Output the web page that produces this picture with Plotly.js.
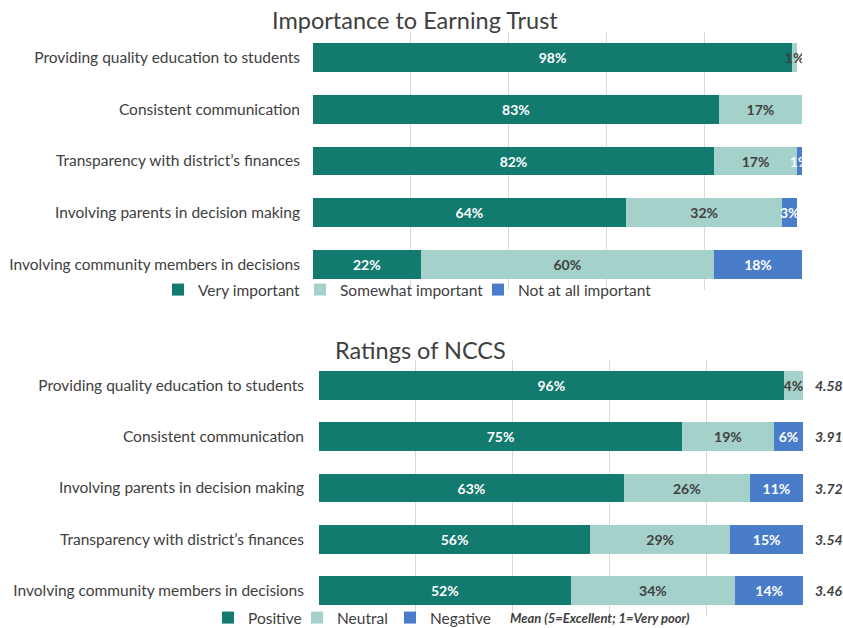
<!DOCTYPE html>
<html>
<head>
<meta charset="utf-8">
<script src="https://cdn.plot.ly/plotly-3.0.1.min.js"></script>
<style>html,body{margin:0;padding:0;background:#fff}#chart{width:843px;height:628px}</style>
</head>
<body>
<div id="chart"></div>
<script>
// Top chart: Importance to Earning Trust
const trustCategories = [
  "Providing quality education to students",
  "Consistent communication",
  "Transparency with district\u2019s finances",
  "Involving parents in decision making",
  "Involving community members in decisions"
];
const veryImportant = [98, 83, 82, 64, 22];
const somewhatImportant = [1, 17, 17, 32, 60];
const notAtAllImportant = [0, 0, 1, 3, 18];

// Bottom chart: Ratings of NCCS
const ratingCategories = [
  "Providing quality education to students",
  "Consistent communication",
  "Involving parents in decision making",
  "Transparency with district\u2019s finances",
  "Involving community members in decisions"
];
const positive = [96, 75, 63, 56, 52];
const neutral = [4, 19, 26, 29, 34];
const negative = [0, 6, 11, 15, 14];
const means = [4.58, 3.91, 3.72, 3.54, 3.46];

const C_DARK = '#127a6e', C_LIGHT = '#a4d1ca', C_BLUE = '#4a7dc9';
const FONT = 'Lato, "Open Sans", sans-serif';
const GREY = '#404040';
const W = 843, H = 628;

function pct(arr){ return arr.map(v => v > 0 ? v + '%' : ''); }

function barTrace(name, x, y, color, txtColor, xa, ya, legend, lw){
  return {
    type: 'bar', orientation: 'h', name: name, x: x, y: y,
    xaxis: xa, yaxis: ya, legend: legend, legendwidth: lw,
    marker: {color: color},
    text: pct(x), textposition: 'inside', insidetextanchor: 'middle',
    constraintext: 'none', textangle: 0,
    textfont: {family: FONT, size: 14, color: txtColor, weight: 'bold'},
    hoverinfo: 'x+y'
  };
}

const data = [
  barTrace('Very important', veryImportant, trustCategories, C_DARK, '#ffffff', 'x', 'y', 'legend', 97),
  barTrace('Somewhat important', somewhatImportant, trustCategories, C_LIGHT, GREY, 'x', 'y', 'legend', 133),
  barTrace('Not at all important', notAtAllImportant, trustCategories, C_BLUE, '#ffffff', 'x', 'y', 'legend', 140),
  barTrace('Positive', positive, ratingCategories, C_DARK, '#ffffff', 'x2', 'y2', 'legend2', 44),
  barTrace('Neutral', neutral, ratingCategories, C_LIGHT, GREY, 'x2', 'y2', 'legend2', 48),
  barTrace('Negative', negative, ratingCategories, C_BLUE, '#ffffff', 'x2', 'y2', 'legend2', 60)
];

const xCommon = {range: [0, 100], showticklabels: false, showgrid: true, gridcolor: '#d9d9d9',
  dtick: 20, zeroline: false, showline: false, fixedrange: true};
const yCommon = {autorange: 'reversed', ticks: '', showgrid: false, zeroline: false, showline: false,
  tickfont: {family: FONT, size: 15.5, color: GREY}, fixedrange: true};

const annotations = [
  {text: 'Importance to Earning Trust', xref: 'paper', yref: 'paper', x: 415 / W, y: 1 - 20 / H,
   xanchor: 'center', yanchor: 'middle', showarrow: false, font: {family: FONT, size: 23.5, color: GREY}},
  {text: 'Ratings of NCCS', xref: 'paper', yref: 'paper', x: 420 / W, y: 1 - 350 / H,
   xanchor: 'center', yanchor: 'middle', showarrow: false, font: {family: FONT, size: 23.5, color: GREY}},
  {text: '<b><i>Mean (5=Excellent; 1=Very poor)</i></b>', xref: 'paper', yref: 'paper', x: 508 / W, y: 1 - 618 / H,
   xanchor: 'left', yanchor: 'middle', showarrow: false, font: {family: FONT, size: 13, color: GREY}}
];
means.forEach((m, i) => annotations.push({
  text: '<b><i>' + m.toFixed(2) + '</i></b>', xref: 'paper', yref: 'y2', x: 829 / W, y: ratingCategories[i],
  xanchor: 'center', yanchor: 'middle', showarrow: false, font: {family: FONT, size: 14, color: GREY}
}));

const layout = {
  width: W, height: H,
  margin: {l: 0, r: 0, t: 0, b: 0, autoexpand: false},
  paper_bgcolor: '#ffffff', plot_bgcolor: '#ffffff',
  barmode: 'stack', bargap: 0.44,
  showlegend: true,
  font: {family: FONT, color: GREY},
  xaxis: Object.assign({}, xCommon, {domain: [313 / W, 802 / W], anchor: 'y'}),
  yaxis: Object.assign({}, yCommon, {domain: [1 - 290 / H, 1 - 32 / H], anchor: 'x', ticklabelstandoff: 12}),
  xaxis2: Object.assign({}, xCommon, {domain: [319 / W, 803 / W], anchor: 'y2'}),
  yaxis2: Object.assign({}, yCommon, {domain: [1 - 616 / H, 1 - 360 / H], anchor: 'x2', ticklabelstandoff: 14}),
  legend: {orientation: 'h', x: 158 / W, y: 1 - 290 / H, xanchor: 'left', yanchor: 'middle',
    font: {family: FONT, size: 15.5, color: GREY}, itemwidth: 30, traceorder: 'normal', bgcolor: 'rgba(0,0,0,0)'},
  legend2: {orientation: 'h', x: 208 / W, y: 1 - 618 / H, xanchor: 'left', yanchor: 'middle',
    font: {family: FONT, size: 15.5, color: GREY}, itemwidth: 30, traceorder: 'normal', bgcolor: 'rgba(0,0,0,0)'},
  annotations: annotations
};

Plotly.newPlot('chart', data, layout, {displayModeBar: false, staticPlot: true});
</script>
</body>
</html>
